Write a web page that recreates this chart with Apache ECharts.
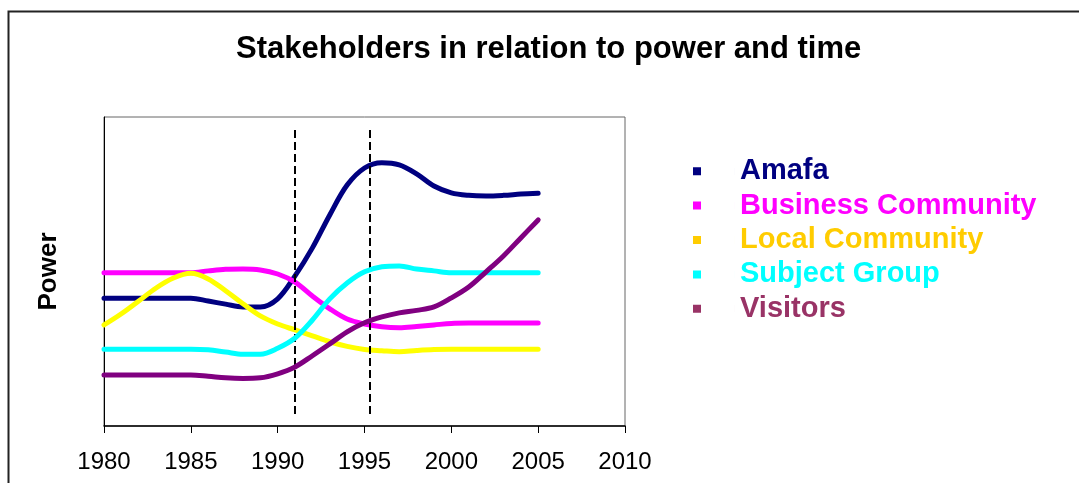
<!DOCTYPE html>
<html>
<head>
<meta charset="utf-8">
<script src="https://cdn.jsdelivr.net/npm/echarts@6/dist/echarts.min.js"></script>
<style>
html,body{margin:0;padding:0;background:#fff;}
#chart{width:1079px;height:483px;}
</style>
</head>
<body>
<div id="chart"></div>
<script>
var years = [1980,1981,1982,1983,1984,1985,1986,1987,1988,1989,1990,1991,1992,1993,1994,1995,1996,1997,1998,1999,2000,2001,2002,2003,2004,2005];
var amafa =    [41.7,41.7,41.7,41.7,41.7,41.7,40.8,39.8,38.9,38.9,41.5,48.9,57.9,68.5,78.1,83.6,85.3,84.6,81.7,77.8,75.6,74.8,74.6,74.8,75.2,75.5];
var business = [49.9,49.9,49.9,49.9,49.9,49.9,50.5,51.0,51.1,50.8,49.5,46.9,42.4,38.3,35.0,33.4,32.5,32.2,32.6,33.1,33.6,33.7,33.7,33.7,33.7,33.7];
var local =    [33.1,36.7,40.8,45.0,48.2,49.7,47.9,44.1,39.9,36.0,33.4,31.5,29.6,27.7,26.2,25.2,24.8,24.5,24.9,25.2,25.3,25.3,25.3,25.3,25.3,25.3];
var subject =  [25.3,25.3,25.3,25.3,25.3,25.3,25.1,24.4,23.7,23.7,25.6,28.9,34.7,41.5,46.6,50.2,51.8,52.1,51.1,50.5,49.9,49.9,49.9,49.9,49.9,49.9];
var visitors = [17.0,17.0,17.0,17.0,17.0,17.0,16.6,16.1,15.9,16.1,17.4,19.6,23.2,27.0,30.9,33.8,35.7,37.0,37.8,38.9,41.8,45.3,50.2,55.3,61.1,66.9];
var seriesNames = ['Amafa','Business Community','Local Community','Subject Group','Visitors'];
var lineColors = ['#000080','#FF00FF','#FFFF00','#00FFFF','#800080'];
var legendColors = ['#000080','#FF00FF','#FFCC00','#00FFFF','#993366'];
var markerYears = [1991, 1995.3];
var markerRange = [3.5, 95.8];
var xTicks = {min:1980, max:2010, step:5};

var seriesData = [amafa, business, local, subject, visitors];
function pairs(vals){ return years.map(function(y,i){ return [y, vals[i]]; }); }

var FONT = 'Arial, "Liberation Sans", sans-serif';
var chart = echarts.init(document.getElementById('chart'), null, {renderer:'canvas'});

var series = seriesNames.map(function(name, i){
  return {
    name: name,
    type: 'line',
    data: pairs(seriesData[i]),
    smooth: 0.35,
    showSymbol: false,
    symbol: 'none',
    lineStyle: {color: lineColors[i], width: 5, cap: 'round', join: 'round'},
    itemStyle: {color: legendColors[i]},
    z: 2 + i,
    animation: false
  };
});
series[0].markLine = {
  silent: true,
  symbol: 'none',
  label: {show: false},
  lineStyle: {color: '#000', type: [8, 4], width: 2},
  data: markerYears.map(function(x){ return [{coord:[x, markerRange[1]]},{coord:[x, markerRange[0]]}]; }),
  animation: false
};

var legendIcon = 'path://M0,0h8v8h-8z M41.99,0h0.01v8h-0.01z';

chart.setOption({
  backgroundColor: '#fff',
  animation: false,
  graphic: [{
    type: 'rect', left: 6, top: 9,
    shape: {width: 1200, height: 600},
    style: {fill: 'none', stroke: '#222', lineWidth: 2},
    z: 0
  }],
  title: {
    text: 'Stakeholders in relation to power and time',
    left: 231, top: 29,
    textStyle: {fontFamily: FONT, fontSize: 31, fontWeight: 'bold', color: '#000'}
  },
  legend: {
    orient: 'vertical',
    left: 688, top: 149, padding: 5,
    itemWidth: 42, itemHeight: 8, itemGap: 0,
    icon: legendIcon,
    selectedMode: false,
    data: seriesNames.map(function(n, i){
      return {name: n, icon: legendIcon, itemStyle: {color: legendColors[i]},
              textStyle: {color: legendColors[i]}};
    }),
    textStyle: {fontFamily: FONT, fontSize: 29, fontWeight: 'bold', lineHeight: 34.4}
  },
  grid: {left: 104, top: 117, right: 454, bottom: 57, show: true, borderColor: '#666', borderWidth: 1, containLabel: false},
  xAxis: {
    type: 'value', min: xTicks.min, max: xTicks.max, interval: xTicks.step,
    axisLine: {show: true, onZero: false, lineStyle: {color: '#000', width: 1.5}},
    axisTick: {show: true, inside: false, length: 7, lineStyle: {color: '#000', width: 1}},
    axisLabel: {color: '#000', fontFamily: FONT, fontSize: 24, margin: 24,
                formatter: function(v){ return String(v); }},
    splitLine: {show: false}
  },
  yAxis: {
    type: 'value', min: 0.6, max: 100,
    name: 'Power', nameLocation: 'middle', nameRotate: 90, nameGap: 42,
    nameTextStyle: {fontFamily: FONT, fontSize: 26, fontWeight: 'bold', color: '#000'},
    axisLine: {show: true, lineStyle: {color: '#000', width: 1}},
    axisTick: {show: false},
    axisLabel: {show: false},
    splitLine: {show: false}
  },
  series: series
});
</script>
</body>
</html>
